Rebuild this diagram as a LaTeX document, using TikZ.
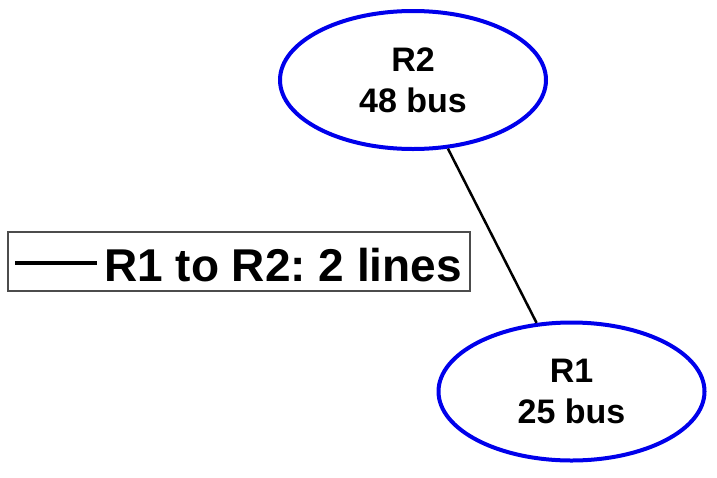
\documentclass[tikz,border=0pt]{standalone}
\usepackage{fontspec}
\setmainfont{Liberation Sans}
\usetikzlibrary{shapes.geometric}
\definecolor{busblue}{RGB}{0,0,235}
\tikzset{
  region/.style={ellipse, draw=busblue, line width=4pt, minimum width=266pt, minimum height=138pt,
    inner sep=0pt, align=center, font=\fontsize{34}{41}\selectfont\bfseries},
  tie/.style={line width=2.5pt, black},
  legendbox/.style={draw=black!70, line width=1.5pt, minimum width=462pt, minimum height=59pt, inner sep=0pt},
  legendtext/.style={anchor=base west, inner sep=0pt, font=\fontsize{46}{50}\selectfont\bfseries}
}
\begin{document}
\frenchspacing
\begin{tikzpicture}[x=1pt,y=-1pt]
\useasboundingbox (0,0) rectangle (717,477);
\node[region] (R2) at (413,80) {R2\\48 bus};
\node[region] (R1) at (571.5,391.5) {R1\\25 bus};
\draw[tie] (R2) -- (R1);
\node[legendbox] (legend) at (239,261.5) {};
\coordinate (la) at (15,263);
\coordinate (lb) at (97,263);
\draw[line width=4pt] (la) -- (lb);
\node[legendtext] (ltext) at (104,281) {R1 to R2: 2 lines};
\end{tikzpicture}
\end{document}
